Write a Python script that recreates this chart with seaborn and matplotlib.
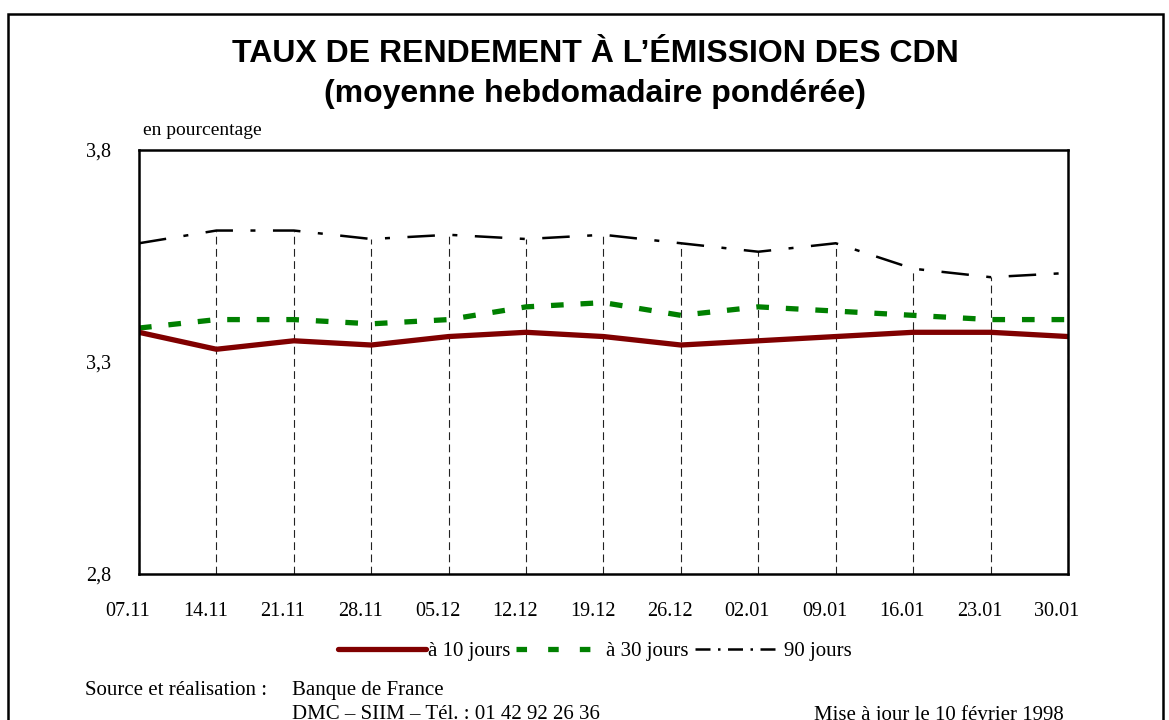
import pandas as pd
import numpy as np
import matplotlib
matplotlib.use("Agg")
import matplotlib.pyplot as plt
import matplotlib.transforms as mtransforms
import seaborn as sns
from matplotlib.patches import Rectangle
from matplotlib.lines import Line2D

# data
dates = ["07.11", "14.11", "21.11", "28.11", "05.12", "12.12", "19.12",
         "26.12", "02.01", "09.01", "16.01", "23.01", "30.01"]
j10 = [3.37, 3.33, 3.35, 3.34, 3.36, 3.37, 3.36, 3.34, 3.35, 3.36, 3.37, 3.37, 3.36]
j30 = [3.38, 3.40, 3.40, 3.39, 3.40, 3.43, 3.44, 3.41, 3.43, 3.42, 3.41, 3.40, 3.40]
j90 = [3.58, 3.61, 3.61, 3.59, 3.60, 3.59, 3.60, 3.58, 3.56, 3.58, 3.52, 3.50, 3.51]
yticks = [2.8, 3.3, 3.8]

df = pd.DataFrame({"pos": np.arange(len(dates)), "date": dates,
                   "j10": j10, "j30": j30, "j90": j90})

sns.set_theme(style="white")
plt.rcParams["font.family"] = ["Liberation Serif", "DejaVu Serif"]
plt.rcParams["text.color"] = "black"

fig = plt.figure(figsize=(11.69, 7.2), dpi=100)
ax = fig.add_axes([0.1189, 0.2028, 0.7947, 0.5889])

# outer frame
fig.patches.append(Rectangle((0.007, -0.05), 0.988, 1.03, transform=fig.transFigure,
                             fill=False, lw=1.8, ec="black"))

# drop lines from top series
ax.vlines(df["pos"], 2.8, df["j90"], colors="#222222", linestyles=(0, (7, 4)), lw=0.8)

sns.lineplot(data=df, x="pos", y="j90", ax=ax, color="black", lw=1.8)
ax.lines[-1].set_dashes([11, 7, 2, 7])
sns.lineplot(data=df, x="pos", y="j30", ax=ax, color="#008000", lw=3.8)
ax.lines[-1].set_dashes([2.4, 3.2])
sns.lineplot(data=df, x="pos", y="j10", ax=ax, color="#800000", lw=3.8)

ax.set_xlim(0, len(dates) - 1)
ax.set_ylim(2.8, 3.8)
ax.set_yticks(yticks)
ax.set_yticklabels([f"{v:.1f}".replace(".", ",") for v in yticks])
ax.set_xticks(df["pos"])
ax.set_xticklabels(dates)
ax.tick_params(axis="both", direction="in", length=6, width=1.2, colors="black",
               labelsize=14.5)
ax.tick_params(axis="x", pad=20)
ax.tick_params(axis="y", pad=20)
shift = mtransforms.ScaledTranslation(-11 / 100, 0, fig.dpi_scale_trans)
for lab in ax.get_xticklabels():
    lab.set_horizontalalignment("center")
    lab.set_transform(lab.get_transform() + shift)
ax.set_xlabel("")
ax.set_ylabel("")
for s in ax.spines.values():
    s.set_visible(True)
    s.set_color("black")
    s.set_linewidth(1.8)

fig.text(0.509, 0.925, "TAUX DE RENDEMENT À L’ÉMISSION DES CDN", ha="center", va="center",
         fontsize=23, fontweight="bold", family=["Liberation Sans", "DejaVu Sans"])
fig.text(0.509, 0.869, "(moyenne hebdomadaire pondérée)", ha="center", va="center",
         fontsize=23, fontweight="bold", family=["Liberation Sans", "DejaVu Sans"])
fig.text(0.122, 0.819, "en pourcentage", ha="left", va="center", fontsize=14)

handles = [Line2D([], [], color="#800000", lw=3.8),
           Line2D([], [], color="#008000", lw=3.8, dashes=[2, 4]),
           Line2D([], [], color="black", lw=1.8, dashes=[6, 3, 1, 3])]
fig.legend(handles, ["à 10 jours", "à 30 jours", "90 jours"], loc="center",
           bbox_to_anchor=(0.509, 0.095), ncol=3, frameon=False, fontsize=15,
           handlelength=4.2, handletextpad=0.1, columnspacing=0.3)

fig.text(0.073, 0.041, "Source et réalisation :", ha="left", va="center", fontsize=15)
fig.text(0.25, 0.041, "Banque de France", ha="left", va="center", fontsize=15)
fig.text(0.25, 0.007, "DMC – SIIM – Tél. : 01 42 92 26 36", ha="left", va="center", fontsize=15)
fig.text(0.696, 0.007, "Mise à jour le 10 février 1998", ha="left", va="center", fontsize=15)

fig.savefig("out.png", dpi=100)
